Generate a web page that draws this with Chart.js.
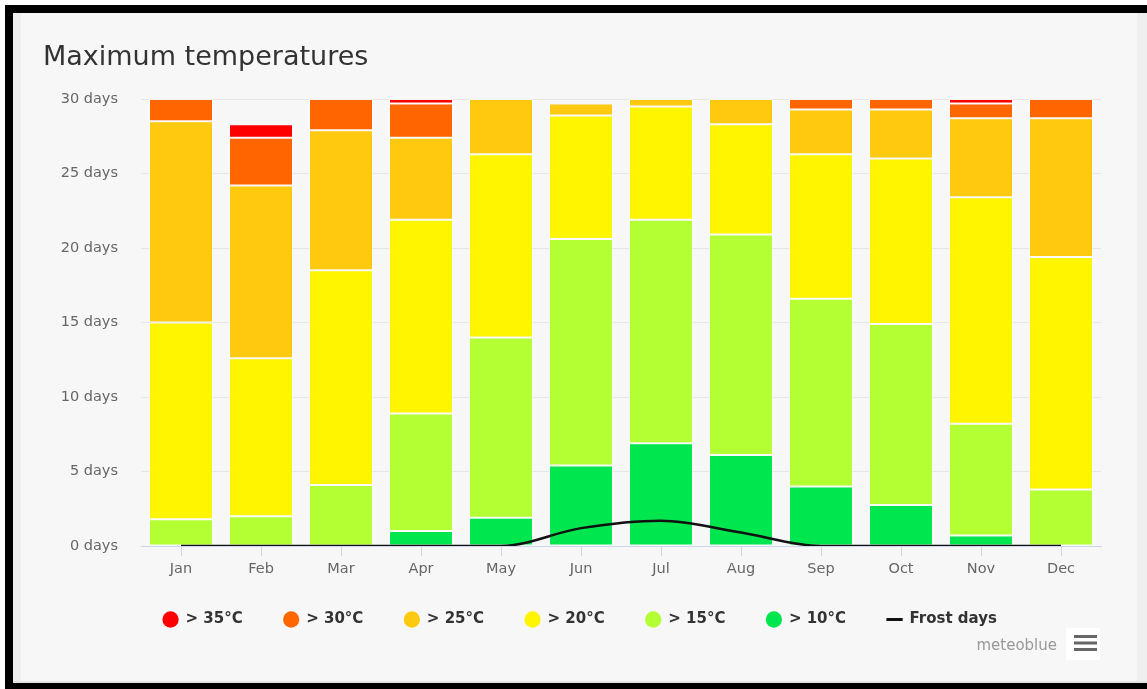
<!DOCTYPE html>
<html><head><meta charset="utf-8">
<script src="https://cdn.jsdelivr.net/npm/chart.js@4.4.1/dist/chart.umd.min.js"></script>
<style>
html,body{margin:0;padding:0;background:#fff;width:1147px;height:689px;overflow:hidden}
#frame{position:absolute;left:5px;top:5px;width:1142px;height:684px;box-sizing:border-box;border-top:8px solid #000;border-left:8px solid #000;border-bottom:6px solid #000;background:#f7f7f7}
#lstrip{position:absolute;left:13px;top:13px;width:8px;height:670px;background:#efefef}
#rstrip{position:absolute;left:1137px;top:13px;width:10px;height:670px;background:#efefef}
#bline{position:absolute;left:13px;top:681px;width:1134px;height:2px;background:#e4e4e4}
canvas{position:absolute;left:0;top:0}
</style></head>
<body>
<div id="frame"></div><div id="lstrip"></div><div id="rstrip"></div><div id="bline"></div>
<canvas id="c" width="1147" height="689"></canvas>
<script>
const months = ['Jan','Feb','Mar','Apr','May','Jun','Jul','Aug','Sep','Oct','Nov','Dec'];
const over35 = [0, 0.9, 0, 0.3, 0, 0, 0, 0, 0, 0, 0.3, 0];
const over30 = [1.5, 3.2, 2.1, 2.3, 0, 0, 0, 0, 0.7, 0.7, 1.0, 1.3];
const over25 = [13.5, 11.6, 9.4, 5.5, 3.7, 0.8, 0.5, 1.7, 3.0, 3.3, 5.3, 9.3];
const over20 = [13.2, 10.6, 14.4, 13.0, 12.3, 8.3, 7.6, 7.4, 9.7, 11.1, 15.2, 15.6];
const over15 = [1.8, 2.0, 4.1, 7.9, 12.1, 15.2, 15.0, 14.8, 12.6, 12.15, 7.5, 3.8];
const over10 = [0, 0, 0, 1.0, 1.9, 5.4, 6.9, 6.1, 4.0, 2.75, 0.7, 0];
const frostDays = [0, 0, 0, 0, 0, 1.2, 1.7, 0.9, 0, 0, 0, 0];
const yTicks = [0, 5, 10, 15, 20, 25, 30];
const seriesLabels = ['> 10°C', '> 15°C', '> 20°C', '> 25°C', '> 30°C', '> 35°C'];
const seriesColors = ['#00e64f', '#b4ff33', '#fff500', '#ffc90f', '#ff6600', '#ff0000'];

const barSeries = [over10, over15, over20, over25, over30, over35];
const datasets = barSeries.map((d, i) => ({
  type: 'bar',
  label: seriesLabels[i],
  data: d,
  backgroundColor: seriesColors[i],
  borderColor: 'rgba(255,255,255,0.55)',
  borderWidth: 1,
  borderSkipped: false,
  barPercentage: 0.8,
  categoryPercentage: 1.0,
  stack: 'temps'
}));
datasets.push({
  type: 'line',
  label: 'Frost days',
  data: frostDays,
  borderColor: '#111',
  backgroundColor: '#111',
  borderWidth: 2.5,
  pointRadius: 0,
  tension: 0.3,
  cubicInterpolationMode: 'monotone',
  fill: false,
  order: -1,
  stack: 'frost'
});

const decor = {
  id: 'decor',
  afterLayout(chart) {
    if (chart.legend) { chart.legend.top -= 25; chart.legend.bottom -= 25; }
  },
  afterDraw(chart) {
    const ctx = chart.ctx;
    ctx.save();
    ctx.fillStyle = '#333';
    ctx.font = '27px "DejaVu Sans"';
    ctx.textBaseline = 'alphabetic';
    ctx.textAlign = 'left';
    ctx.fillText('Maximum temperatures', 43, 65);
    ctx.fillStyle = '#999';
    ctx.font = '15px "DejaVu Sans"';
    ctx.textAlign = 'right';
    ctx.fillText('meteoblue', 1057, 650);
    ctx.fillStyle = '#fff';
    ctx.fillRect(1066, 628, 34, 32);
    ctx.fillStyle = '#666';
    [635, 641.5, 648].forEach(y => ctx.fillRect(1074, y, 23, 3));
    ctx.restore();
  }
};

const keyOf = it => it.datasetIndex === 6 ? 99 : 5 - it.datasetIndex;

new Chart(document.getElementById('c'), {
  data: { labels: months, datasets },
  options: {
    responsive: false,
    animation: false,
    devicePixelRatio: 1,
    layout: { padding: { left: 59, right: 46, top: 99, bottom: 27 } },
    scales: {
      x: {
        stacked: true,
        afterFit: s => { s.height = 50; },
        grid: { offset: false, drawOnChartArea: false, drawTicks: true, tickLength: 10, color: '#ccd6eb' },
        border: { display: true, color: '#ccd6eb', width: 1 },
        ticks: { color: '#666', font: { family: 'DejaVu Sans', size: 14.5 }, padding: 5 }
      },
      y: {
        stacked: true,
        min: 0, max: 30,
        afterFit: s => { s.width = 82; },
        afterBuildTicks: s => { s.ticks = yTicks.map(v => ({ value: v })); },
        grid: { drawTicks: false, color: ctx => (ctx.tick && ctx.tick.value === 0) ? 'rgba(0,0,0,0)' : '#e6e6e6' },
        border: { display: false },
        ticks: { color: '#666', font: { family: 'DejaVu Sans', size: 14.5 }, padding: 23, callback: v => v + ' days' }
      }
    },
    plugins: {
      tooltip: { enabled: false },
      legend: {
        position: 'bottom',
        labels: {
          usePointStyle: true,
          boxWidth: 15,
          boxHeight: 11.5,
          padding: 41,
          color: '#333',
          font: { family: 'DejaVu Sans', size: 15, weight: 'bold' },
          generateLabels: chart => {
            const items = Chart.defaults.plugins.legend.labels.generateLabels(chart);
            items.forEach(it => {
              const ds = chart.data.datasets[it.datasetIndex];
              if (ds.type === 'line') {
                it.pointStyle = 'line'; it.strokeStyle = '#111'; it.lineWidth = 3;
              } else {
                it.pointStyle = 'circle'; it.lineWidth = 0; it.strokeStyle = ds.backgroundColor;
              }
            });
            return items;
          },
          sort: (a, b) => keyOf(a) - keyOf(b)
        }
      }
    }
  },
  plugins: [decor]
});
</script>
</body></html>
